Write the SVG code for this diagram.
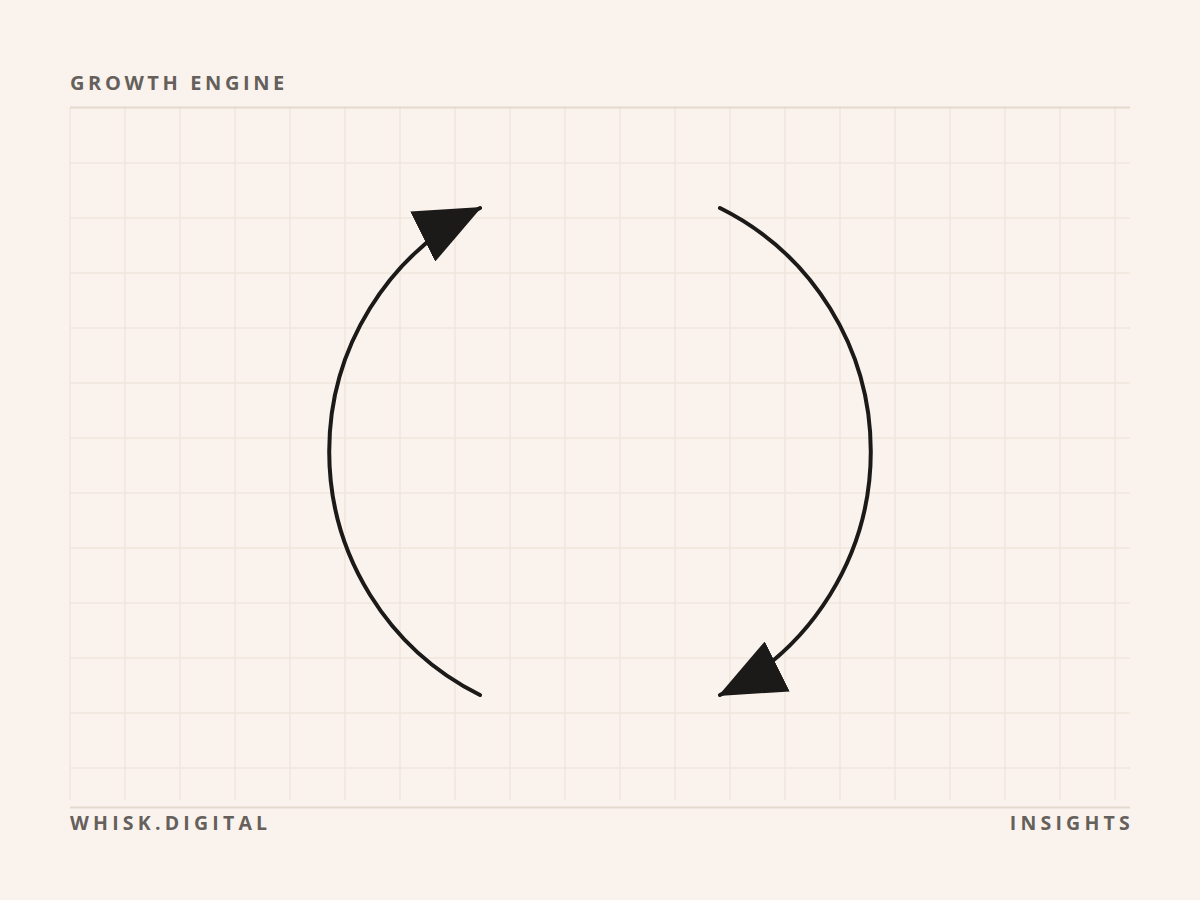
<svg xmlns="http://www.w3.org/2000/svg" width="1200" height="900" viewBox="0 0 1200 900">
  <defs>
    <style>
      .label { font-family: "Open Sans", "Liberation Sans", sans-serif; font-weight: 700; fill: #65605b; }
      .grid { stroke: #EFE6DB; stroke-width: 1.5; }
      .rule { stroke: #E3D9CF; stroke-width: 2; }
      .arc { fill: none; stroke: #1c1a19; stroke-width: 4; stroke-linecap: round; }
    </style>
    <marker id="head" viewBox="0 0 66 56" refX="64" refY="28" markerWidth="66" markerHeight="56" markerUnits="userSpaceOnUse" orient="auto">
      <path d="M0,0 L66,28 L0,56 z" fill="#1c1a19"/>
    </marker>
  </defs>
  <rect width="1200" height="900" fill="#FAF3ED"/>
  <g id="grid" class="grid">
    <path d="M70,108 V800 M125,108 V800 M180,108 V800 M235,108 V800 M290,108 V800 M345,108 V800 M400,108 V800 M455,108 V800 M510,108 V800 M565,108 V800 M620,108 V800 M675,108 V800 M730,108 V800 M785,108 V800 M840,108 V800 M895,108 V800 M950,108 V800 M1005,108 V800 M1060,108 V800 M1115,108 V800"/>
    <path d="M70,163 H1130 M70,218 H1130 M70,273 H1130 M70,328 H1130 M70,383 H1130 M70,438 H1130 M70,493 H1130 M70,548 H1130 M70,603 H1130 M70,658 H1130 M70,713 H1130 M70,768 H1130"/>
  </g>
  <g id="rules" class="rule">
    <line x1="70" y1="107.5" x2="1130" y2="107.5"/>
    <line x1="70" y1="807.5" x2="1130" y2="807.5"/>
  </g>
  <g id="title"><text class="label" x="70" y="90" font-size="20" letter-spacing="3.6">GROWTH ENGINE</text></g>
  <g id="connectors">
    <path class="arc" d="M480,695 A272,272 0 0 1 480,208" marker-end="url(#head)"/>
    <path class="arc" d="M720,208 A272,272 0 0 1 720,695" marker-end="url(#head)"/>
  </g>
  <g id="footer-left"><text class="label" x="70" y="830" font-size="19.5" letter-spacing="4.2">WHISK.DIGITAL</text></g>
  <g id="footer-right"><text class="label" x="1134" y="830" font-size="19.5" letter-spacing="4.2" text-anchor="end">INSIGHTS</text></g>
</svg>
